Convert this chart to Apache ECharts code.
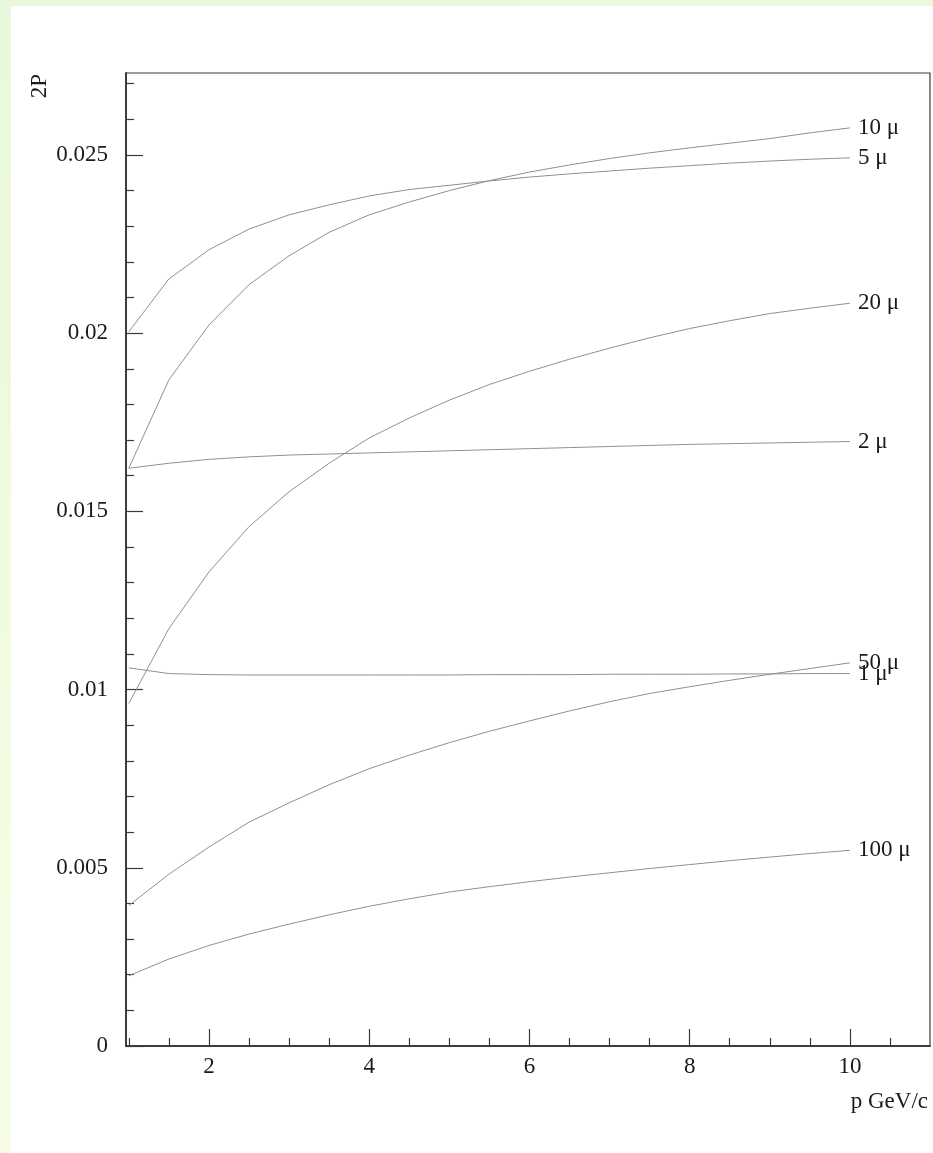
<!DOCTYPE html>
<html><head><meta charset="utf-8">
<script src="https://cdn.jsdelivr.net/npm/echarts@6/dist/echarts.min.js"></script>
<style>
html,body{margin:0;padding:0;width:933px;height:1153px;overflow:hidden;background:linear-gradient(165deg,#e9f8dc 0%,#f4fce4 60%,#f8fde8 100%);}
#c{position:absolute;left:11px;top:6px;width:922px;height:1147px;background:#fff;}
</style></head><body><div id="c"></div>
<script>
// momentum p (GeV/c)
const pValues = [1,1.5,2,2.5,3,3.5,4,4.5,5,5.5,6,6.5,7,7.5,8,8.5,9,9.5,10];
const seriesNames = ['10 μ','5 μ','20 μ','2 μ','50 μ','1 μ','100 μ'];
const v10 = [0.01621,0.01869,0.02023,0.02136,0.02217,0.02283,0.02332,0.02368,0.02400,0.02428,0.02452,0.02472,0.02490,0.02506,0.02520,0.02533,0.02546,0.02562,0.02576];
const v5 = [0.02004,0.02152,0.02234,0.02292,0.02332,0.02360,0.02385,0.02403,0.02415,0.02427,0.02438,0.02447,0.02455,0.02463,0.02470,0.02477,0.02483,0.02488,0.02492];
const v20 = [0.00961,0.01171,0.01330,0.01457,0.01555,0.01635,0.01706,0.01762,0.01812,0.01856,0.01893,0.01927,0.01958,0.01987,0.02013,0.02035,0.02055,0.02070,0.02084];
const v2 = [0.01621,0.01635,0.01646,0.01653,0.01658,0.01661,0.01664,0.01667,0.01670,0.01673,0.01676,0.01679,0.01682,0.01685,0.01688,0.01690,0.01692,0.01694,0.01696];
const v50 = [0.00394,0.00482,0.00558,0.00628,0.00682,0.00733,0.00778,0.00816,0.00851,0.00883,0.00912,0.00940,0.00966,0.00989,0.01008,0.01026,0.01043,0.01059,0.01075];
const v1 = [0.01061,0.01045,0.01042,0.01041,0.01041,0.01041,0.01041,0.01041,0.01041,0.01042,0.01042,0.01042,0.01043,0.01043,0.01043,0.01044,0.01044,0.01045,0.01045];
const v100 = [0.00197,0.00244,0.00282,0.00314,0.00342,0.00368,0.00392,0.00413,0.00432,0.00447,0.00461,0.00474,0.00486,0.00498,0.00509,0.00520,0.00530,0.00540,0.00549];
const allValues = [v10,v5,v20,v2,v50,v1,v100];

const xMajorTicks = [2,4,6,8,10];
const xMinorTicks = [1,1.5,2.5,3,3.5,4.5,5,5.5,6.5,7,7.5,8.5,9,9.5,10.5];
const yMajorTicks = [0,0.005,0.01,0.015,0.02,0.025];
const yTickLabels = ['0','0.005','0.01','0.015','0.02','0.025'];
const yMinorTicks = [0.001,0.002,0.003,0.004,0.006,0.007,0.008,0.009,0.011,0.012,0.013,0.014,0.016,0.017,0.018,0.019,0.021,0.022,0.023,0.024,0.026,0.027];

const FONT = 'Liberation Serif';
const TXT = '#1a1a1a';
const AX = '#3a3a3a';

const chart = echarts.init(document.getElementById('c'), null, {renderer:'canvas'});
const xBase = {type:'value', min:0.965, max:11, position:'bottom', splitLine:{show:false},
  axisLine:{show:true, lineStyle:{color:AX, width:1.5}}};
const yBase = {type:'value', min:0, max:0.0273, position:'left', splitLine:{show:false},
  axisLine:{show:true, lineStyle:{color:AX, width:1.5}}};

chart.setOption({
  animation:false,
  grid:{left:115, top:67, right:3, bottom:107, show:true, borderColor:AX, borderWidth:1.2, backgroundColor:'transparent'},
  xAxis:[
    Object.assign({}, xBase, {
      axisTick:{show:true, inside:true, length:17, customValues:xMajorTicks, lineStyle:{color:AX, width:1.2}},
      axisLabel:{show:true, customValues:xMajorTicks, margin:9, fontFamily:FONT, fontSize:23, color:TXT}
    }),
    Object.assign({}, xBase, {
      axisTick:{show:true, inside:true, length:8, customValues:xMinorTicks, lineStyle:{color:AX, width:1.2}},
      axisLabel:{show:false}
    })
  ],
  yAxis:[
    Object.assign({}, yBase, {
      axisTick:{show:true, inside:true, length:17, customValues:yMajorTicks, lineStyle:{color:AX, width:1.2}},
      axisLabel:{show:true, customValues:yMajorTicks, margin:18, fontFamily:FONT, fontSize:23, color:TXT,
        formatter:function(v){ const i = yMajorTicks.findIndex(t=>Math.abs(t-v)<1e-9); return i>=0 ? yTickLabels[i] : ''; }}
    }),
    Object.assign({}, yBase, {
      axisTick:{show:true, inside:true, length:8, customValues:yMinorTicks, lineStyle:{color:AX, width:1.2}},
      axisLabel:{show:false}
    })
  ],
  graphic:[
    {type:'text', left:17, top:68, rotation:Math.PI/2, style:{text:'2P', font:'23px "Liberation Serif"', fill:TXT}},
    {type:'text', right:5, top:1084, style:{text:'p GeV/c', font:'23px "Liberation Serif"', fill:TXT}}
  ],
  series: seriesNames.map((name,i)=>({
    name:name, type:'line', xAxisIndex:0, yAxisIndex:0, symbol:'none', smooth:false,
    data: pValues.map((p,j)=>[p, allValues[i][j]]),
    lineStyle:{color:'#8f8f8f', width:1},
    endLabel:{show:true, formatter:'{a}', distance:8, fontFamily:FONT, fontSize:23, color:TXT},
    labelLayout:{hideOverlap:false},
    emphasis:{disabled:true}
  }))
});
</script></body></html>
